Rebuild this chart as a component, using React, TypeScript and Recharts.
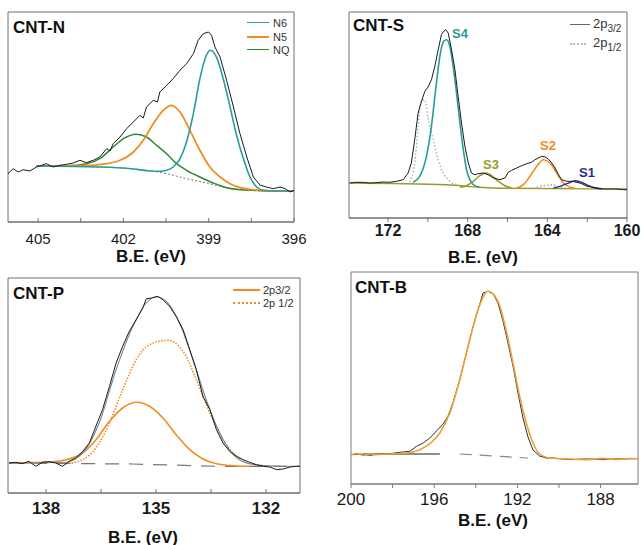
import React from "react";
import { LineChart, Line, XAxis, YAxis, ReferenceArea } from "recharts";

const FONT = "'Liberation Sans', Arial, Helvetica, sans-serif";

// ---------- CNT-N (N 1s) ----------
const nTicksMajor = [405, 402, 399, 396];
const nTicksMinor = [403.5, 400.5, 397.5];
const nExp: [number, number][] = [
  [406.06, 48.3], [405.88, 53.3], [405.7, 50], [405.53, 52.3], [405.29, 51], [405.06, 55], [404.71, 58.3],
  [404.47, 55], [404.24, 56.7], [404.0, 57.7], [403.77, 59], [403.53, 61.7], [403.3, 59.3], [403.06, 61.7],
  [402.83, 65], [402.59, 73.3], [402.47, 71], [402.36, 78.3], [402.12, 85], [401.89, 93.3], [401.65, 100],
  [401.42, 106.7], [401.3, 104], [401.19, 115], [400.95, 121.7], [400.8, 120], [400.72, 130], [400.48, 136.7],
  [400.25, 143.3], [400.01, 151.7], [399.78, 158.3], [399.54, 168.3], [399.37, 181.7], [399.19, 188.3],
  [399.01, 190], [398.9, 186.7], [398.78, 175], [398.6, 165], [398.37, 141.7], [398.13, 115], [397.9, 88.3],
  [397.66, 65], [397.43, 45], [397.19, 36.7], [396.96, 35], [396.73, 33.3], [396.49, 35], [396.31, 33.3],
  [396.14, 30], [396.0, 31.7],
];
const nBase: [number, number][] = [
  [405.06, 56], [404.0, 55.7], [402.83, 55], [401.89, 53.7], [401.19, 51.7], [400.48, 48.3], [399.78, 43.3],
  [399.07, 39], [398.37, 34.3], [397.66, 31.7], [396.96, 31], [396.0, 31],
];
const nN6: [number, number][] = [
  [405.06, 56], [402.83, 55], [401.65, 53], [401.07, 51], [400.72, 50.7], [400.48, 51.7], [400.25, 55],
  [400.01, 63.3], [399.78, 80], [399.54, 108.3], [399.31, 143.3], [399.13, 163.3], [398.93, 171.7],
  [398.72, 164.3], [398.49, 143.3], [398.25, 115], [398.02, 86.7], [397.78, 63.3], [397.55, 45], [397.31, 35],
  [397.08, 31.7], [396.73, 31], [396.0, 31],
];
const nN5: [number, number][] = [
  [405.06, 56], [403.42, 56.3], [402.59, 58.3], [402.12, 61.7], [401.65, 70], [401.3, 81.7], [400.95, 98.3],
  [400.6, 111.7], [400.31, 116.7], [400.01, 110], [399.66, 91.7], [399.31, 71.7], [398.96, 55], [398.6, 45],
  [398.25, 38.3], [397.9, 34.3], [397.43, 32.3], [396.96, 31], [396.0, 31],
];
const nNQ: [number, number][] = [
  [405.06, 56], [404.0, 56.3], [403.3, 58.3], [402.83, 63.3], [402.36, 75], [402.0, 83.3], [401.54, 87.7],
  [401.19, 85], [400.83, 76.7], [400.48, 68.3], [400.13, 58.3], [399.78, 51.7], [399.31, 45], [398.84, 39],
  [398.37, 34.3], [397.9, 32.3], [397.43, 31.7], [396.0, 31],
];

// ---------- CNT-S (S 2p) ----------
const sTicksMajor = [172, 168, 164, 160];
const sTicksMinor = [170, 166, 162];
const sExp: [number, number][] = [
  [173.93, 35], [173.59, 35.7], [173.26, 35.7], [172.92, 35], [172.59, 35.3], [172.25, 36], [171.92, 35.7],
  [171.58, 36.7], [171.24, 38.3], [170.99, 45], [170.83, 55], [170.66, 78.3], [170.49, 105], [170.32, 116.7],
  [170.15, 126.7], [169.99, 131], [169.82, 138.3], [169.65, 151.7], [169.48, 168.3], [169.32, 183.3],
  [169.2, 186.7], [169.1, 188.3], [168.98, 185], [168.81, 168.3], [168.64, 148.3], [168.48, 121.7],
  [168.31, 95], [168.14, 71.7], [167.97, 55], [167.81, 45], [167.64, 43.3], [167.47, 44.3], [167.22, 45],
  [166.97, 43.3], [166.71, 40], [166.38, 38.3], [166.13, 40], [165.96, 45.7], [165.79, 47.7], [165.54, 50],
  [165.29, 52.3], [165.04, 54.3], [164.79, 55.7], [164.62, 58.3], [164.45, 60], [164.28, 61.7], [164.11, 61],
  [163.95, 59], [163.78, 55], [163.61, 50], [163.44, 43.3], [163.28, 38.3], [163.02, 36.7], [162.77, 36.7],
  [162.52, 35.7], [162.27, 34.3], [162.02, 31.7], [161.77, 31], [161.51, 30], [161.18, 29], [160.84, 29],
  [160.51, 29], [160.17, 28.3], [160.0, 28.3],
];
const sBase: [number, number][] = [
  [173.93, 35], [169.06, 33.3], [167.39, 30.7], [166.04, 29.7], [160.0, 29],
];
const sS4: [number, number][] = [
  [170.74, 35.7], [170.41, 41.7], [170.07, 61.7], [169.82, 91.7], [169.57, 135], [169.37, 165], [169.2, 176.7],
  [169.06, 178.3], [168.9, 171.7], [168.73, 151.7], [168.56, 125], [168.39, 95], [168.22, 68.3], [168.06, 48.3],
  [167.89, 38.3], [167.72, 33.3], [167.39, 30.7],
];
const sS4b: [number, number][] = [
  [170.91, 36], [170.66, 55], [170.49, 90], [170.32, 118], [170.15, 118], [169.99, 100], [169.73, 78],
  [169.48, 58], [169.23, 45], [168.9, 37], [168.56, 33],
];
const sS3: [number, number][] = [
  [168.39, 30.7], [168.06, 32.3], [167.72, 36.7], [167.39, 42.3], [167.1, 45], [166.8, 42.3], [166.46, 36.7],
  [166.13, 32.3], [165.79, 30],
];
const sS2: [number, number][] = [
  [165.54, 30], [165.2, 33.3], [164.87, 41.7], [164.53, 51.7], [164.2, 58.3], [163.86, 55], [163.53, 45],
  [163.19, 35], [162.86, 30.7], [162.6, 29.7],
];
const sS2b: [number, number][] = [
  [164.7, 29.7], [164.2, 32.3], [163.69, 33], [163.36, 31], [163.02, 29.7],
];
const sS1: [number, number][] = [
  [163.69, 30], [163.36, 31.7], [163.02, 34.3], [162.6, 37.3], [162.27, 35.7], [161.93, 32.3], [161.6, 30],
  [161.26, 29.3],
];

// ---------- CNT-P (P 2p) ----------
const pTicksMajor = [138, 135, 132];
const pTicksMinor = [136.5, 133.5];
const pExp: [number, number][] = [
  [139.01, 30], [138.83, 30.7], [138.65, 29.3], [138.47, 31.7], [138.28, 26.7], [138.1, 30.7], [137.92, 31.3],
  [137.74, 30], [137.55, 26.7], [137.37, 31.7], [137.19, 35], [137.0, 41.7], [136.82, 50], [136.64, 66.7],
  [136.46, 83.3], [136.27, 106.7], [136.09, 130], [135.91, 146.7], [135.73, 161.7], [135.54, 173.3],
  [135.36, 185], [135.27, 194], [135.13, 195], [134.95, 196.7], [134.81, 193.3], [134.63, 186.7],
  [134.45, 176.7], [134.26, 163.3], [134.08, 143.3], [133.9, 123.3], [133.72, 96.7], [133.53, 83.3],
  [133.35, 63.3], [133.17, 50], [132.99, 41.7], [132.8, 36.7], [132.62, 33.3], [132.44, 30.7], [132.26, 28.3],
  [132.07, 26.7], [131.89, 26], [131.71, 23.3], [131.53, 24], [131.34, 26], [131.16, 26.7], [131.07, 26.7],
];
const pEnv: [number, number][] = [
  [139.01, 30], [137.46, 30.7], [137.0, 40], [136.55, 70], [136.09, 123.3], [135.63, 166.7], [135.27, 190],
  [135.0, 196], [134.72, 191.7], [134.36, 170], [133.99, 133.3], [133.63, 93.3], [133.26, 60], [132.89, 38.3],
  [132.53, 30], [131.98, 27.3], [131.07, 26.7],
];
const pBase: [number, number][] = [
  [139.01, 30], [135.63, 29], [133.35, 26.7], [131.07, 26.7],
];
const p32: [number, number][] = [
  [139.01, 30], [138.1, 30.7], [137.46, 33.3], [137.0, 40], [136.64, 53.3], [136.27, 71.7], [135.91, 85],
  [135.53, 90.7], [135.18, 86.7], [134.81, 75], [134.45, 58.3], [134.08, 43.3], [133.72, 34], [133.35, 29.3],
  [132.89, 27.3], [132.44, 26.7],
];
const p12: [number, number][] = [
  [137.46, 29.3], [137.0, 33.3], [136.64, 45], [136.27, 70], [135.91, 103.3], [135.54, 133.3], [135.18, 148.3],
  [134.68, 152.7], [134.26, 141.7], [133.9, 113.3], [133.53, 80], [133.17, 53.3], [132.8, 36.7], [132.44, 29.3],
  [132.07, 27.3], [131.71, 26.7],
];

// ---------- CNT-B (B 1s) ----------
const bTicksMajor = [200, 196, 192, 188];
const bTicksMinor = [198, 194, 190];
const bExp: [number, number][] = [
  [199.97, 29.3], [199.57, 30], [199.09, 28.7], [198.61, 30], [198.13, 30.3], [197.65, 31.7], [197.17, 32.7],
  [196.85, 37.7], [196.53, 41], [196.21, 46], [195.89, 53], [195.57, 60], [195.33, 68], [195.09, 82],
  [194.77, 104.3], [194.45, 131], [194.13, 157.7], [193.89, 174.3], [193.65, 191], [193.41, 192.7],
  [193.17, 190.3], [192.93, 181], [192.69, 163], [192.45, 141], [192.21, 118], [191.97, 91], [191.73, 66],
  [191.49, 47], [191.25, 34], [190.93, 28], [190.61, 26], [190.29, 26], [189.81, 25], [189.33, 24.3],
  [188.85, 25], [188.37, 25], [187.89, 24.3], [187.41, 25.3], [186.93, 25], [186.45, 25.3], [186.21, 25.3],
];
const bFit: [number, number][] = [
  [199.97, 29.3], [199.7, 30.5], [199.4, 28.6], [199.1, 30.2], [198.8, 29.4], [198.29, 30], [197.33, 31],
  [196.69, 34.3], [196.21, 40.3], [195.73, 51], [195.25, 71], [194.77, 104.3], [194.29, 144.3], [193.89, 174.3],
  [193.41, 192.7], [192.93, 182.7], [192.53, 152.7], [192.21, 121], [191.89, 87.7], [191.57, 61], [191.25, 41],
  [190.93, 30], [190.45, 26], [189.49, 25], [188.6, 24.4], [187.9, 25.6], [187.2, 24.6], [186.6, 25.5],
  [186.21, 25.3],
];
const bBaseSolid: [number, number][] = [[199.41, 30], [195.73, 30]];
const bBaseDash: [number, number][] = [[194.77, 30], [191.49, 26]];

const pts = (a: [number, number][]) => a.map(([x, y]) => ({ x, y }));

type Series = {
  data: [number, number][];
  color: string;
  width?: number;
  dash?: string;
  smooth?: boolean;
};

type PanelProps = {
  left: number;
  top: number;
  w: number;
  h: number;
  xDomain: [number, number];
  yMax: number;
  majors: number[];
  minors: number[];
  tickDir: number;
  labelOffset: number;
  labelSize: number;
  labelBold: boolean;
  frame: string;
  series: Series[];
};

function Panel(p: PanelProps) {
  const mL = 25, mR = 25, mT = 5, bottom = 40;
  const renderTick = (props: any) => {
    const { x, y, payload } = props;
    const v = payload.value;
    const isMajor = p.majors.some((m) => Math.abs(m - v) < 1e-6);
    return (
      <g>
        <line x1={x} x2={x} y1={y} y2={y + p.tickDir * 4} stroke={p.frame} strokeWidth={1} />
        {isMajor && (
          <text
            x={x}
            y={y + p.labelOffset}
            textAnchor="middle"
            dominantBaseline="central"
            fontFamily={FONT}
            fontSize={p.labelSize}
            fontWeight={p.labelBold ? "bold" : "normal"}
            fill="#1a1a1a"
          >
            {v}
          </text>
        )}
      </g>
    );
  };
  return (
    <div style={{ position: "absolute", left: p.left - mL, top: p.top - mT }}>
      <LineChart
        width={p.w + mL + mR}
        height={p.h + mT + bottom}
        margin={{ top: mT, right: mR, left: mL, bottom: 0 }}
      >
        <XAxis
          type="number"
          dataKey="x"
          domain={p.xDomain}
          reversed
          allowDataOverflow
          ticks={[...p.majors, ...p.minors]}
          interval={0}
          tickLine={false}
          tickSize={0}
          tickMargin={0}
          height={bottom}
          axisLine={{ stroke: p.frame }}
          tick={renderTick}
        />
        <YAxis type="number" domain={[0, p.yMax]} hide allowDataOverflow />
        <ReferenceArea
          x1={p.xDomain[0]}
          x2={p.xDomain[1]}
          y1={0}
          y2={p.yMax}
          fill="none"
          stroke={p.frame}
          strokeWidth={1}
          ifOverflow="extendDomain"
        />
        {p.series.map((s, i) => (
          <Line
            key={i}
            data={pts(s.data)}
            dataKey="y"
            type={s.smooth ? "monotone" : "linear"}
            stroke={s.color}
            strokeWidth={s.width ?? 1.3}
            strokeDasharray={s.dash}
            dot={false}
            activeDot={false}
            isAnimationActive={false}
          />
        ))}
      </LineChart>
    </div>
  );
}

const txt = (x: number, y: number, s: string, size: number, color = "#111", bold = true, anchor = "left") => (
  <div
    style={{
      position: "absolute",
      left: x,
      top: y,
      transform: anchor === "center" ? "translate(-50%,-50%)" : "translateY(-50%)",
      fontFamily: FONT,
      fontSize: size,
      fontWeight: bold ? "bold" : "normal",
      color,
      lineHeight: 1,
      whiteSpace: "nowrap",
    }}
  >
    {s}
  </div>
);

const legLine = (x: number, y: number, w: number, color: string, style = "solid", th = 2) => (
  <div
    style={{
      position: "absolute",
      left: x,
      top: y - th / 2,
      width: w,
      height: 0,
      borderTop: `${th}px ${style} ${color}`,
    }}
  />
);

const BLACK = "#1b1b1b";
const TEAL = "#2a9c98";
const ORANGE = "#f28c22";
const GREEN = "#2f8a36";
const OLIVE = "#9a9a26";
const NAVY = "#2b2b8c";

export default function App() {
  return (
    <div style={{ position: "absolute", left: 0, top: 0, width: 641, height: 545, background: "#fff", overflow: "hidden" }}>
      <Panel
        left={8} top={12} w={286} h={210}
        xDomain={[396, 406.06]} yMax={210}
        majors={nTicksMajor} minors={nTicksMinor}
        tickDir={-1} labelOffset={16} labelSize={15} labelBold={false}
        frame="#6e6e6e"
        series={[
          { data: nBase, color: "#777", width: 1, dash: "2 2", smooth: true },
          { data: nNQ, color: GREEN, width: 1.5, smooth: true },
          { data: nN5, color: ORANGE, width: 1.8, smooth: true },
          { data: nN6, color: TEAL, width: 1.6, smooth: true },
          { data: nExp, color: BLACK, width: 1 },
        ]}
      />
      <Panel
        left={349} top={12} w={278} h={206}
        xDomain={[160, 173.96]} yMax={206}
        majors={sTicksMajor} minors={sTicksMinor}
        tickDir={1} labelOffset={12} labelSize={16} labelBold={true}
        frame="#6e6e6e"
        series={[
          { data: sBase, color: OLIVE, width: 1.4, smooth: true },
          { data: sS4b, color: "#9fb5b3", width: 1.4, dash: "1.5 2", smooth: true },
          { data: sS2b, color: "#9aa0b8", width: 1.4, dash: "1.5 2", smooth: true },
          { data: sS4, color: TEAL, width: 1.6, smooth: true },
          { data: sS3, color: OLIVE, width: 1.6, smooth: true },
          { data: sS2, color: ORANGE, width: 1.6, smooth: true },
          { data: sS1, color: NAVY, width: 1.4, smooth: true },
          { data: sExp, color: BLACK, width: 1 },
        ]}
      />
      <Panel
        left={8} top={278} w={292} h={215}
        xDomain={[131.07, 139.04]} yMax={215}
        majors={pTicksMajor} minors={pTicksMinor}
        tickDir={-1} labelOffset={15} labelSize={17} labelBold={true}
        frame="#6e6e6e"
        series={[
          { data: pBase, color: "#777", width: 1.2, dash: "14 10", smooth: false },
          { data: p32, color: ORANGE, width: 1.6, smooth: true },
          { data: p12, color: ORANGE, width: 1.6, dash: "1.5 1.5", smooth: true },
          { data: pEnv, color: "#7a8a96", width: 1.1, smooth: true },
          { data: pExp, color: BLACK, width: 1 },
        ]}
      />
      <Panel
        left={351} top={272} w={287} h={212}
        xDomain={[186.2, 200]} yMax={212}
        majors={bTicksMajor} minors={bTicksMinor}
        tickDir={1} labelOffset={15} labelSize={17} labelBold={false}
        frame="#7a7a7a"
        series={[
          { data: bBaseSolid, color: BLACK, width: 1 },
          { data: bBaseDash, color: "#888", width: 1.2, dash: "12 8" },
          { data: bExp, color: "#2c2c3a", width: 1 },
          { data: bFit, color: "#f0a035", width: 1.6, smooth: true },
        ]}
      />

      {txt(13, 27, "CNT-N", 17)}
      {txt(353, 25, "CNT-S", 17)}
      {txt(13, 293, "CNT-P", 17)}
      {txt(355, 287, "CNT-B", 17)}

      {txt(151, 256, "B.E. (eV)", 17, "#111", true, "center")}
      {txt(483, 257, "B.E. (eV)", 17, "#111", true, "center")}
      {txt(143, 537, "B.E. (eV)", 17, "#111", true, "center")}
      {txt(493, 520, "B.E. (eV)", 17, "#111", true, "center")}

      {legLine(247, 23, 22, TEAL, "solid", 1.5)}
      {legLine(247, 37, 22, ORANGE, "solid", 2)}
      {legLine(247, 50, 22, GREEN, "solid", 1.5)}
      {txt(273, 23, "N6", 11, "#333", false)}
      {txt(273, 37, "N5", 11, "#333", false)}
      {txt(273, 50, "NQ", 11, "#333", false)}

      {legLine(570, 25, 20, "#666", "solid", 1.5)}
      {legLine(570, 44, 16, "#bbb", "dotted", 2)}
      <div style={{ position: "absolute", left: 593, top: 17, fontFamily: FONT, fontSize: 13, color: "#333", lineHeight: 1 }}>
        2p<sub style={{ fontSize: 10 }}>3/2</sub>
      </div>
      <div style={{ position: "absolute", left: 593, top: 36, fontFamily: FONT, fontSize: 13, color: "#333", lineHeight: 1 }}>
        2p<sub style={{ fontSize: 10 }}>1/2</sub>
      </div>

      {txt(460, 33, "S4", 13, TEAL, true, "center")}
      {txt(491, 164, "S3", 13, OLIVE, true, "center")}
      {txt(548, 145, "S2", 13, ORANGE, true, "center")}
      {txt(587, 172, "S1", 13, NAVY, true, "center")}

      {legLine(233, 290, 27, ORANGE, "solid", 2)}
      {legLine(233, 303, 27, ORANGE, "dotted", 2)}
      {txt(263, 290, "2p3/2", 11, "#333", false)}
      {txt(263, 303, "2p 1/2", 11, "#333", false)}
    </div>
  );
}
